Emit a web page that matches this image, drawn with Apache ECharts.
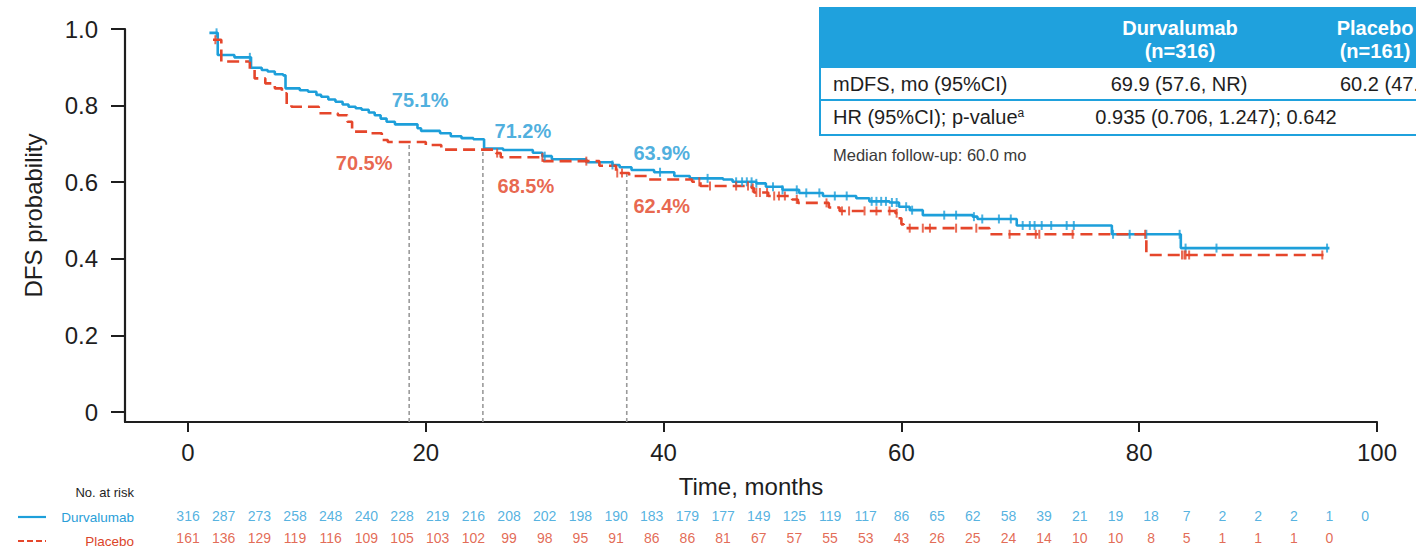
<!DOCTYPE html>
<html>
<head>
<meta charset="utf-8">
<script src="https://cdn.jsdelivr.net/npm/echarts@6/dist/echarts.min.js"></script>
<style>
  html, body { margin: 0; padding: 0; background: #ffffff; }
  #chart { width: 1416px; height: 549px; }
</style>
</head>
<body>
<div id="chart"></div>
<script>
// Kaplan–Meier step points: [month, DFS probability from this month on]
const durvaCurve = [
  [1.8, 0.99], [2.5, 0.932], [3.9, 0.926], [5.3, 0.899], [6.2, 0.893], [6.7, 0.889],
  [7.3, 0.882], [8.0, 0.879], [8.2, 0.845], [9.4, 0.84], [10.1, 0.836], [10.8, 0.828],
  [11.2, 0.823], [11.8, 0.816], [12.4, 0.81], [13.0, 0.803], [13.5, 0.797], [14.1, 0.793],
  [14.6, 0.789], [15.2, 0.782], [15.7, 0.775], [16.2, 0.766], [16.7, 0.758], [17.4, 0.751],
  [19.3, 0.741], [19.6, 0.734], [21.2, 0.728], [22.1, 0.72], [23.0, 0.715], [24.0, 0.712],
  [24.9, 0.688], [26.5, 0.684], [29.0, 0.677], [29.8, 0.668], [30.6, 0.66], [33.5, 0.652],
  [35.7, 0.645], [36.3, 0.639], [37.3, 0.632], [39.2, 0.626], [40.9, 0.616], [42.2, 0.61],
  [45.0, 0.607], [45.8, 0.601], [47.8, 0.597], [48.6, 0.588], [50.0, 0.58], [51.4, 0.572],
  [53.4, 0.564], [56.2, 0.558], [57.3, 0.55], [59.0, 0.547], [59.8, 0.536], [60.7, 0.527],
  [61.8, 0.514], [66.0, 0.51], [66.4, 0.504], [69.7, 0.487], [77.7, 0.464], [83.5, 0.428],
  [96.0, 0.428]
];
const placeboCurve = [
  [2.1, 0.972], [2.8, 0.915], [5.2, 0.893], [5.6, 0.871], [6.5, 0.858], [7.3, 0.845],
  [7.9, 0.832], [8.3, 0.802], [8.7, 0.797], [11.0, 0.78], [12.6, 0.775], [13.4, 0.758],
  [13.8, 0.732], [15.1, 0.728], [16.3, 0.71], [16.8, 0.705], [20.0, 0.697], [21.3, 0.685],
  [25.9, 0.676], [26.3, 0.665], [29.9, 0.655], [34.6, 0.643], [36.0, 0.624], [37.1, 0.616],
  [38.6, 0.607], [42.4, 0.601], [43.1, 0.59], [47.4, 0.585], [47.6, 0.573], [48.8, 0.564],
  [50.8, 0.555], [51.3, 0.546], [53.9, 0.534], [54.8, 0.525], [59.5, 0.519], [59.7, 0.506],
  [60.0, 0.49], [60.2, 0.48], [67.4, 0.464], [80.6, 0.41], [95.5, 0.41]
];

// Censoring times (months)
const durvaCensor = [
  2.4, 5.2, 30.0, 35.7, 39.7, 43.7, 46.1, 46.6, 47.0, 47.4, 47.8, 49.2, 50.0, 51.2, 52.0,
  53.1, 54.4, 55.4, 57.5, 57.9, 58.3, 58.7, 59.2, 59.6, 60.4, 60.9, 63.6, 64.6, 66.1, 66.8,
  68.2, 69.2, 70.2, 70.8, 71.2, 71.8, 72.6, 73.9, 74.5, 77.8, 79.2, 80.6, 83.4, 83.9, 86.5, 95.8
];
const placeboCensor = [
  2.3, 26.0, 29.8, 33.5, 36.1, 36.5, 43.0, 43.9, 46.1, 47.1, 47.5, 47.8, 48.1, 48.7, 49.3,
  49.7, 50.2, 51.2, 53.7, 55.0, 55.6, 56.9, 57.9, 59.0, 59.6, 60.7, 61.8, 62.4, 64.6, 66.3,
  69.1, 71.3, 71.6, 74.4, 80.5, 83.6, 83.8, 83.9, 84.2, 95.4
];

// Landmark estimates (%)
const landmarkMonths = [18.6, 24.8, 36.9];
const durvaLandmark = [75.1, 71.2, 63.9];
const placeboLandmark = [70.5, 68.5, 62.4];

// Axis ticks
const xTicks = [0, 20, 40, 60, 80, 100];
const yTicks = [0, 0.2, 0.4, 0.6, 0.8, 1.0];

// Number at risk
const riskMonths = [0, 3, 6, 9, 12, 15, 18, 21, 24, 27, 30, 33, 36, 39, 42, 45, 48, 51, 54, 57,
  60, 63, 66, 69, 72, 75, 78, 81, 84, 87, 90, 93, 96, 99];
const durvaAtRisk = [316, 287, 273, 258, 248, 240, 228, 219, 216, 208, 202, 198, 190, 183, 179,
  177, 149, 125, 119, 117, 86, 65, 62, 58, 39, 21, 19, 18, 7, 2, 2, 2, 1, 0];
const placeboAtRisk = [161, 136, 129, 119, 116, 109, 105, 103, 102, 99, 98, 95, 91, 86, 86, 81,
  67, 57, 55, 53, 43, 26, 25, 24, 14, 10, 10, 8, 5, 1, 1, 1, 0];

// Summary table
const tableHead = ['Durvalumab', '(n=316)', 'Placebo', '(n=161)'];
const mdfsRow = ['mDFS, mo (95%CI)', '69.9 (57.6, NR)', '60.2 (47.7, NR)'];
const hrRow = ['HR (95%CI); p-value', '0.935 (0.706, 1.247); 0.642'];
const followUp = 'Median follow-up: 60.0 mo';

// ---- styling ----
const BLUE = '#1d9fda';
const RED = '#e5462b';
const INK = '#1e1e1e';
const FONT = '"Liberation Sans", Arial, Helvetica, sans-serif';
const X_MIN = -5.3, X_MAX = 100, Y_MIN = -0.0261;
const HIDDEN = 'rgba(0,0,0,0)';

// label offsets (px) for the landmark percentages
const durvaLabelOffset = [[11, -24], [40, -8], [35, -14]];
const placeboLabelOffset = [[-45, 21], [43, 36], [35, 33]];

function stepValue(curve, t) {
  let v = curve[0][1];
  for (const p of curve) { if (p[0] <= t) v = p[1]; else break; }
  return v;
}

const chart = echarts.init(document.getElementById('chart'), null, { renderer: 'svg' });

const series = [];

// vertical dotted landmark guides
landmarkMonths.forEach((m, i) => {
  series.push({
    type: 'line', xAxisIndex: 0, yAxisIndex: 0, silent: true, showSymbol: false, z: 1,
    data: [[m, Y_MIN], [m, placeboLandmark[i] / 100]],
    lineStyle: { color: '#9a9a9a', width: 1.6, type: [4, 3] }
  });
});

series.push({
  name: 'Durvalumab', type: 'line', step: 'end', showSymbol: false, z: 3,
  xAxisIndex: 0, yAxisIndex: 0, data: durvaCurve,
  lineStyle: { color: BLUE, width: 2.6 }
});
series.push({
  name: 'Placebo', type: 'line', step: 'end', showSymbol: false, z: 4,
  xAxisIndex: 0, yAxisIndex: 0, data: placeboCurve,
  lineStyle: { color: RED, width: 2.6, type: [12, 6] }
});
series.push({
  type: 'scatter', xAxisIndex: 0, yAxisIndex: 0, z: 5, silent: true,
  symbol: 'rect', symbolSize: [2, 9], itemStyle: { color: BLUE },
  data: durvaCensor.map(t => [t, stepValue(durvaCurve, t)])
});
series.push({
  type: 'scatter', xAxisIndex: 0, yAxisIndex: 0, z: 6, silent: true,
  symbol: 'rect', symbolSize: [2, 9], itemStyle: { color: RED },
  data: placeboCensor.map(t => [t, stepValue(placeboCurve, t)])
});

// landmark percentage labels
function landmarkLabels(vals, offsets, color) {
  return {
    type: 'scatter', xAxisIndex: 0, yAxisIndex: 0, z: 7, silent: true,
    symbolSize: 1, itemStyle: { color: HIDDEN },
    data: vals.map((v, i) => ({
      value: [landmarkMonths[i], v / 100, v],
      label: { offset: offsets[i] }
    })),
    label: {
      show: true, position: 'inside', color: color,
      fontFamily: FONT, fontSize: 20, fontWeight: 'bold',
      formatter: p => p.value[2].toFixed(1) + '%'
    }
  };
}
series.push(landmarkLabels(durvaLandmark, durvaLabelOffset, '#1f9bd6'));
series.push(landmarkLabels(placeboLandmark, placeboLabelOffset, '#e23f1f'));

// number-at-risk rows
function riskRow(name, counts, color) {
  return {
    type: 'scatter', xAxisIndex: 1, yAxisIndex: 1, silent: true,
    symbolSize: 1, itemStyle: { color: HIDDEN },
    data: counts.map((c, i) => [riskMonths[i], name, c]),
    label: {
      show: true, position: 'inside', color: color,
      fontFamily: FONT, fontSize: 14,
      formatter: p => String(p.value[2])
    }
  };
}
series.push(riskRow('Durvalumab', durvaAtRisk, '#2a9ed8'));
series.push(riskRow('Placebo', placeboAtRisk, '#db452a'));

// summary table graphics
const TX = 820, TY = 8, TW = 640;
const headFont = 'bold 20px ' + FONT;
const rowFont = '20px ' + FONT;
const graphic = [
  { type: 'rect', shape: { x: TX, y: TY, width: TW, height: 60 }, style: { fill: '#1fa1dd' }, silent: true },
  { type: 'rect', shape: { x: TX, y: TY, width: TW, height: 127 }, style: { fill: 'none', stroke: '#1fa1dd', lineWidth: 2 }, silent: true },
  { type: 'line', shape: { x1: TX, y1: 100, x2: TX + TW, y2: 100 }, style: { stroke: '#1fa1dd', lineWidth: 2 }, silent: true },
  { type: 'text', x: 1180, y: 28, style: { text: tableHead[0], fill: '#ffffff', font: headFont, textAlign: 'center', textVerticalAlign: 'middle' } },
  { type: 'text', x: 1180, y: 51, style: { text: tableHead[1], fill: '#ffffff', font: headFont, textAlign: 'center', textVerticalAlign: 'middle' } },
  { type: 'text', x: 1375, y: 28, style: { text: tableHead[2], fill: '#ffffff', font: headFont, textAlign: 'center', textVerticalAlign: 'middle' } },
  { type: 'text', x: 1375, y: 51, style: { text: tableHead[3], fill: '#ffffff', font: headFont, textAlign: 'center', textVerticalAlign: 'middle' } },
  { type: 'text', x: 833, y: 84, style: { text: mdfsRow[0], fill: INK, font: rowFont, textAlign: 'left', textVerticalAlign: 'middle' } },
  { type: 'text', x: 1179, y: 84, style: { text: mdfsRow[1], fill: INK, font: rowFont, textAlign: 'center', textVerticalAlign: 'middle' } },
  { type: 'text', x: 1340, y: 84, style: { text: mdfsRow[2], fill: INK, font: rowFont, textAlign: 'left', textVerticalAlign: 'middle' } },
  { type: 'text', x: 833, y: 117, style: {
      text: hrRow[0] + '{sup|a}', fill: INK, font: rowFont, textAlign: 'left', textVerticalAlign: 'middle',
      rich: { sup: { fontSize: 12, fontFamily: FONT, fill: INK, verticalAlign: 'top' } } } },
  { type: 'text', x: 1216, y: 117, style: { text: hrRow[1], fill: INK, font: rowFont, textAlign: 'center', textVerticalAlign: 'middle' } },
  { type: 'text', x: 833, y: 155, style: { text: followUp, fill: '#3a3a3a', font: '16.5px ' + FONT, textAlign: 'left', textVerticalAlign: 'middle' } },
  // number-at-risk captions and line keys
  { type: 'text', x: 134, y: 492, style: { text: 'No. at risk', fill: INK, font: '13px ' + FONT, textAlign: 'right', textVerticalAlign: 'middle' } },
  { type: 'line', shape: { x1: 18, y1: 517, x2: 46, y2: 517 }, style: { stroke: BLUE, lineWidth: 2.2 } },
  { type: 'text', x: 134, y: 517, style: { text: 'Durvalumab', fill: '#2a9ed8', font: '13.5px ' + FONT, textAlign: 'right', textVerticalAlign: 'middle' } },
  { type: 'line', shape: { x1: 18, y1: 541, x2: 46, y2: 541 }, style: { stroke: RED, lineWidth: 2.2, lineDash: [6, 3] } },
  { type: 'text', x: 134, y: 541, style: { text: 'Placebo', fill: '#db452a', font: '13.5px ' + FONT, textAlign: 'right', textVerticalAlign: 'middle' } }
];

chart.setOption({
  animation: false,
  backgroundColor: '#ffffff',
  grid: [
    { left: 125, right: 39, top: 29, height: 393 },
    { left: 125, right: 39, top: 505, height: 48 }
  ],
  xAxis: [
    {
      gridIndex: 0, type: 'value', min: X_MIN, max: X_MAX,
      name: 'Time, months', nameLocation: 'middle', nameGap: 52,
      nameTextStyle: { color: INK, fontFamily: FONT, fontSize: 24 },
      splitLine: { show: false },
      axisLine: { show: true, onZero: false, lineStyle: { color: INK, width: 2.2 } },
      axisTick: { show: true, customValues: xTicks, length: 10, lineStyle: { color: INK, width: 2 } },
      axisLabel: { customValues: xTicks, color: INK, fontFamily: FONT, fontSize: 24, margin: 18 }
    },
    {
      gridIndex: 1, type: 'value', min: X_MIN, max: X_MAX, show: false
    }
  ],
  yAxis: [
    {
      gridIndex: 0, type: 'value', min: Y_MIN, max: 1,
      name: 'DFS probability', nameLocation: 'middle', nameGap: 80,
      nameTextStyle: { color: INK, fontFamily: FONT, fontSize: 24, padding: [0, 0, 0, 20] },
      splitLine: { show: false },
      axisLine: { show: true, onZero: false, lineStyle: { color: INK, width: 2.2 } },
      axisTick: { show: true, customValues: yTicks, length: 14, lineStyle: { color: INK, width: 2 } },
      axisLabel: {
        customValues: yTicks, color: INK, fontFamily: FONT, fontSize: 24, margin: 27,
        formatter: v => (v === 0 ? '0' : v.toFixed(1))
      }
    },
    {
      gridIndex: 1, type: 'category', data: ['Durvalumab', 'Placebo'], inverse: true, show: false
    }
  ],
  series: series,
  graphic: graphic
});
</script>
</body>
</html>
